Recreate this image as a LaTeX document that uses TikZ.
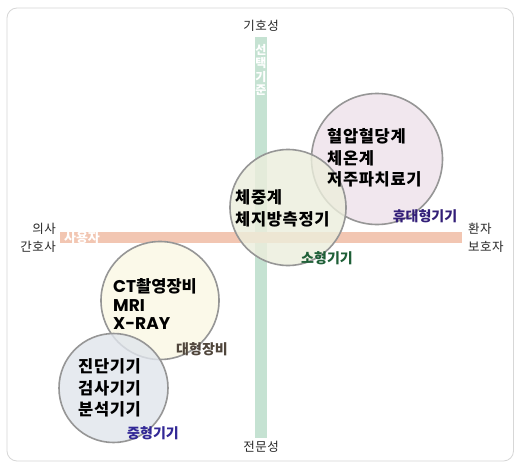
\documentclass[tikz,border=0pt]{standalone}
\usepackage{fontspec}
\setmainfont{Noto Sans CJK KR}
\newfontfamily\popfont{Poppins}
\definecolor{barG}{RGB}{197,226,210}
\definecolor{barO}{RGB}{242,198,178}
\definecolor{fillPink}{RGB}{238,226,234}
\definecolor{fillSmall}{RGB}{236,238,220}
\definecolor{fillCream}{RGB}{250,248,228}
\definecolor{fillBlue}{RGB}{224,229,236}
\definecolor{ringC}{RGB}{150,150,150}
\definecolor{frameC}{RGB}{215,215,215}
\definecolor{labPort}{RGB}{50,30,120}
\definecolor{labSmall}{RGB}{30,95,55}
\definecolor{labLarge}{RGB}{80,70,60}
\definecolor{labMid}{RGB}{50,40,150}
\tikzset{
  ring/.style={circle, draw=ringC, line width=1.6pt, fill opacity=0.8, inner sep=0pt},
  content/.style={align=left, anchor=west, inner sep=0pt, text=black,
     font=\fontsize{16.5}{21.5}\selectfont\bfseries\addfontfeatures{LetterSpace=4}},
  catlab/.style={inner sep=0pt, font=\fontsize{14}{16}\selectfont\bfseries},
  axlab/.style={inner sep=0pt, text=black!85, font=\fontsize{12.5}{17.5}\selectfont\addfontfeatures{LetterSpace=4}},
}
\begin{document}
\begin{tikzpicture}[x=1pt,y=-1pt]
\useasboundingbox (0,0) rectangle (514,463);
\fill[white] (0,0) rectangle (514,463);
\draw[frameC, line width=0.8pt, rounded corners=10pt] (7,8) rectangle (513.5,461);
% bars
\fill[barG] (255,37) rectangle (267,438);
\fill[barO] (60,232) rectangle (462,243);
% bar texts
\node[inner sep=0pt, text=white, align=center, font=\fontsize{12}{13.5}\selectfont\bfseries] (crit) at (261,70) {선\\택\\기\\준};
\node[inner sep=0pt, text=white, font=\fontsize{13}{14}\selectfont\bfseries] (user) at (82,237.5) {사용자};
% axis labels
\node[axlab] (top) at (261,26) {기호성};
\node[axlab] (bot) at (261,447) {전문성};
\node[axlab, anchor=east, align=right] (left) at (56,238) {의사\\간호사};
\node[axlab, anchor=west, align=left] (right) at (468,238) {환자\\보호자};
% circles
\node[ring, fill=fillCream, minimum size=118pt] (large) at (160,300.5) {};
\node[ring, fill=fillBlue, minimum size=109pt] (mid) at (113.5,388) {};
\node[ring, fill=fillPink, minimum size=131pt] (port) at (377,159) {};
\node[ring, fill=fillSmall, minimum size=116pt] (small) at (288,207.5) {};
% contents
\node[content] (portT) at (327,158) {혈압혈당계\\체온계\\저주파치료기};
\node[content] (smallT) at (235,208.5) {체중계\\체지방측정기};
\node[content, font=\fontsize{16.5}{18.5}\selectfont\bfseries] (largeT) at (113,304.5) {{\popfont\fontsize{17}{18.5}\selectfont CT}촬영장비\\{\popfont\fontsize{17}{18.5}\selectfont MRI}\\{\popfont\fontsize{17}{18.5}\selectfont X-RAY}};
\node[content] (midT) at (78,388) {진단기기\\검사기기\\분석기기};
% category labels
\node[catlab, text=labPort] (portL) at (425,216) {휴대형기기};
\node[catlab, text=labSmall] (smallL) at (327,258) {소형기기};
\node[catlab, text=labLarge] (largeL) at (202,349) {대형장비};
\node[catlab, text=labMid] (midL) at (153,433) {중형기기};
\end{tikzpicture}
\end{document}
